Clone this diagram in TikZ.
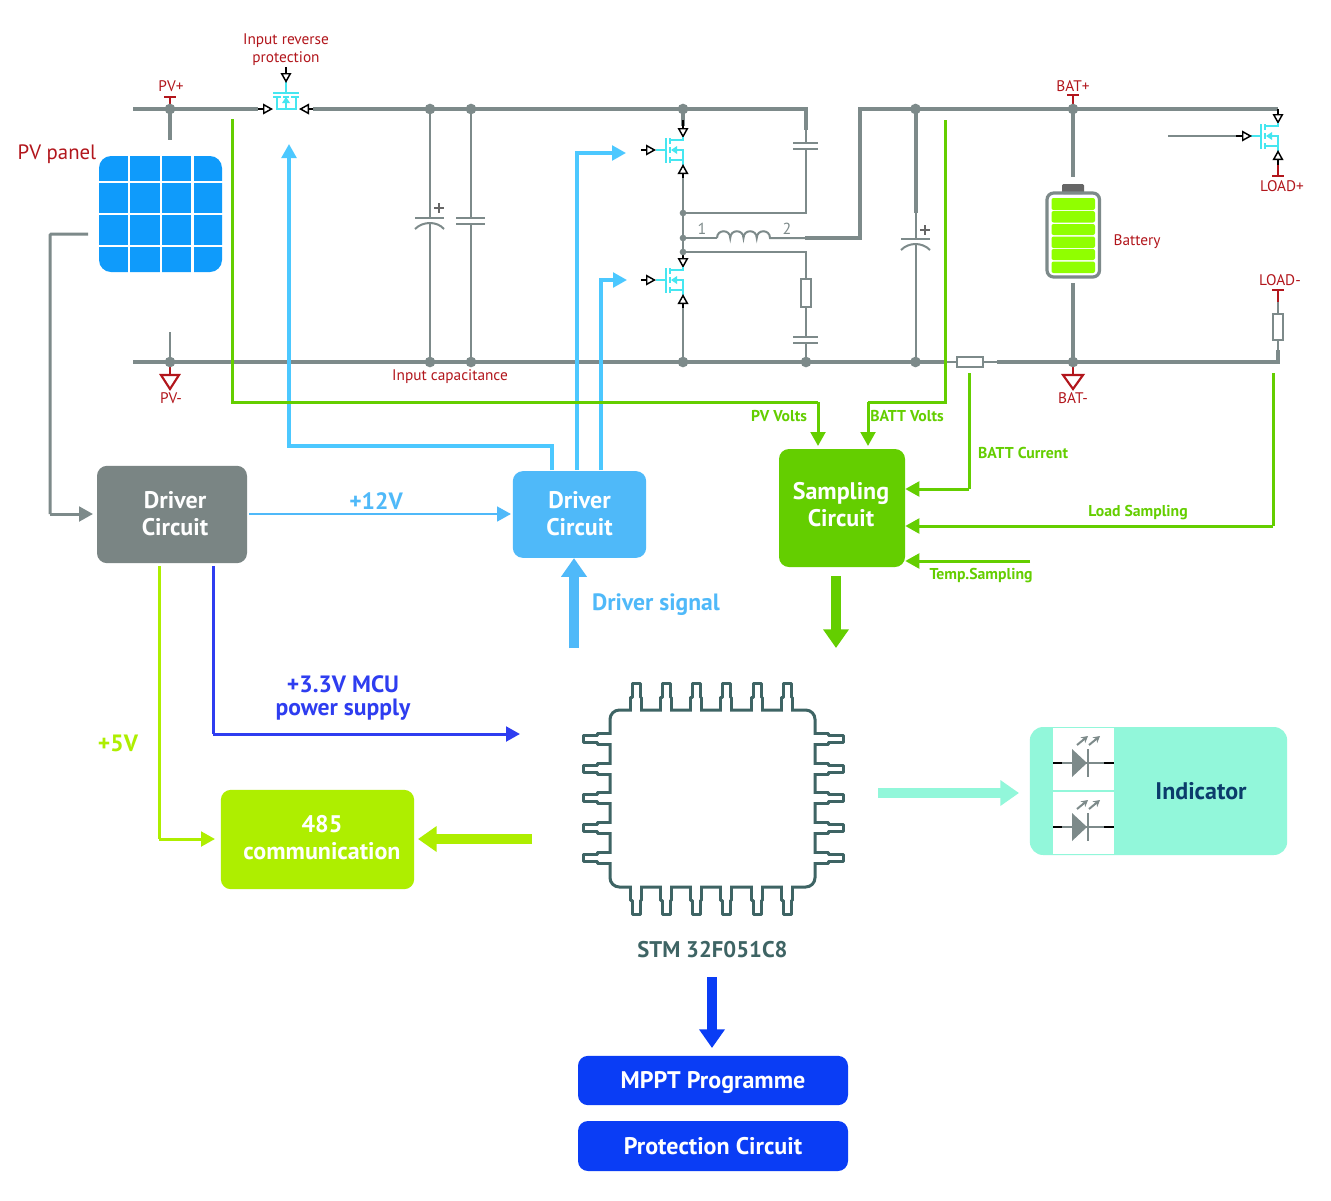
\documentclass[tikz,border=0pt]{standalone}
\usepackage{fontspec}
\setmainfont{PT Sans}
\usetikzlibrary{arrows.meta,calc}
\definecolor{rail}{HTML}{7D8A8A}
\definecolor{redtxt}{HTML}{B2161C}
\definecolor{fetc}{HTML}{45E6F0}
\definecolor{skyw}{HTML}{4CC8FF}
\definecolor{skyb}{HTML}{4FB9F9}
\definecolor{grnw}{HTML}{64CE00}
\definecolor{lime}{HTML}{AEEE00}
\definecolor{royal}{HTML}{2E3DF0}
\definecolor{deep}{HTML}{0A3DF5}
\definecolor{mint}{HTML}{92F7DA}
\definecolor{chipc}{HTML}{3E6464}
\definecolor{greybox}{HTML}{7A8584}
\definecolor{navyt}{HTML}{0B3C6B}
\definecolor{panelc}{HTML}{0F9BFB}
\definecolor{cellc}{HTML}{90FF00}
\definecolor{capc}{HTML}{666666}
\tikzset{
  thickrail/.style={draw=rail,line width=3pt},
  thinrail/.style={draw=rail,line width=1.5pt},
  plate/.style={draw=rail,line width=1.5pt},
  redline/.style={draw=redtxt,line width=1.6pt},
  opentip/.style={draw=black,line width=1.6pt,-{Triangle[length=7.5pt,width=8pt,line width=1.1pt,fill=white]}},
  fetline/.style={draw=fetc,line width=1.2pt},
  dotbig/.style={circle,fill=rail,inner sep=0pt,minimum size=8pt},
  dotsmall/.style={circle,fill=rail,inner sep=0pt,minimum size=5pt},
  wire/.style={line width=2.25pt,-{Triangle[length=10.5pt,width=11pt]}},
  plainwire/.style={line width=2.25pt},
  fat/.style={line width=7pt,-{Triangle[length=14pt,width=18.5pt]}},
  box/.style={rounded corners=7.5pt,inner sep=0pt},
  boxtext/.style={inner sep=0pt,align=center,text=white,font=\fontsize{18}{20.25}\selectfont\bfseries},
  rlab/.style={text=redtxt,inner sep=0pt,font=\fontsize{11.5}{13.5}\selectfont},
  glab/.style={text=grnw,inner sep=0pt,font=\fontsize{11.8}{14}\selectfont\bfseries},
  bigl/.style={inner sep=0pt,align=center,font=\fontsize{17.7}{17.25}\selectfont\bfseries},
  cell/.style={fill=cellc,rounded corners=1.5pt},
  pin/.style={draw=chipc,line width=2.25pt,line join=round},
}
\newcommand{\myfet}[2]{%
  \begin{scope}[shift={(#1,#2)}]
    \draw[fetline] (-27,0) -- (-17,0);
    \draw[fetline] (-17,-12) -- (-17,13);
    \draw[fetline] (-13,-12) -- (-13,-6) (-13,-3) -- (-13,3) (-13,7) -- (-13,13);
    \draw[fetline] (-13,-10) -- (0,-10) -- (0,-13);
    \draw[fetline] (-13,10) -- (0,10) -- (0,0) -- (-8,0);
    \draw[fetline] (0,10) -- (0,15);
    \fill[fetc] (-12,0) -- (-6,-4) -- (-6,4) -- cycle;
  \end{scope}}
\newcommand{\myled}[1]{%
  \begin{scope}[shift={(0,#1)}]
    \fill[white] (1053,-35) rectangle (1114,26.5);
    \draw[rail,line width=1.5pt] (1062,0) -- (1104,0);
    \draw[black,line width=1.6pt] (1053,0) -- (1062,0) (1104,0) -- (1114,0);
    \fill[rail] (1072,-14) -- (1087,0) -- (1072,14) -- cycle;
    \draw[rail,line width=2.2pt] (1088,-14) -- (1088,14);
    \draw[rail,line width=1.5pt,-{Stealth[length=5pt,width=5.5pt]}] (1077,-18) -- (1088,-27);
    \draw[rail,line width=1.5pt,-{Stealth[length=5pt,width=5.5pt]}] (1089,-18) -- (1100,-27);
  \end{scope}}
\begin{document}
\begin{tikzpicture}[x=0.75pt,y=-0.75pt]
\useasboundingbox[fill=white] (0,0) rectangle (1331,1200);

% ---- junctions
\foreach \n/\x/\y in {tA/170/109,tB/430/109,tC/471/109,tD/683/109,tE/915.5/109,tF/1073/109,
  bA/170/362,bB/430/362,bC/471/362,bD/683/362,bE/806/362,bF/915.5/362,bG/1073/362,
  mA/683/213,mB/683/238,mC/683/252,
  railL/133/109,railM/258/109,railN/313/109,railO/806/109,railP/860/109,railQ/1278/109,
  botL/133/362,botM/945/362,botN/997/362,botQ/1278/362}
  {\coordinate (\n) at (\x,\y);}

% ---- power rails
\draw[thickrail] (railL) -- (railM);
\draw[thickrail] (railN) -- (railO) -- (806,130);
\draw[thickrail] (805,238) -- (860,238) -- (railP) -- (railQ);
\draw[thickrail] (botL) -- (botM);
\draw[thickrail] (botN) -- (botQ) -- (1278,350);
\draw[thinrail] (botM) -- (957,362);
\draw[thinrail] (983,362) -- (botN);
\node[draw=rail,line width=1.5pt,fill=white,minimum width=19.5pt,minimum height=7.5pt,inner sep=0pt] (shunt) at (970,362) {};

% PV side
\draw[thickrail] (tA) -- (170,140);
\draw[thinrail] (170,332) -- (bA);
\draw[redline] (170,97) -- (tA);
\draw[redline] (164,97) -- (176,97);
\draw[redline] (bA) -- (170,375);
\draw[redline,line join=miter] (161,375) -- (179,375) -- (170,389) -- cycle;
\node[rlab] (pvp) at (171,86) {PV+};
\node[rlab] (pvm) at (171,398) {PV-};
\node[text=redtxt,inner sep=0pt,font=\fontsize{15.6}{17}\selectfont] (pvpanel) at (57,154) {PV panel};

% panel
\fill[panelc,rounded corners=9pt] (99,156) rectangle (222,272);
\draw[white,line width=2pt] (129,155) -- (129,273) (161,155) -- (161,273) (192.5,155) -- (192.5,273)
  (98,182) -- (223,182) (98,214) -- (223,214) (98,246) -- (223,246);

% input FET
\draw[fetline] (286,82) -- (286,93);
\draw[fetline] (273,93) -- (299,93);
\draw[fetline] (273,97) -- (281,97) (283,97) -- (289,97) (291,97) -- (299,97);
\draw[fetline] (277,97) -- (277,109) -- (296,109) -- (296,97);
\draw[fetline] (286,109) -- (286,102);
\fill[fetc] (286,97) -- (282,103) -- (290,103) -- cycle;
\draw[opentip] (286,67) -- (286,83);
\draw[opentip] (railM) -- (273,109);
\draw[opentip] (railN) -- (299,109);
\node[rlab,align=center] (irp) at (286,50) {Input reverse\\protection};

% capacitors
\draw[thinrail] (tB) -- (430,218) (430,224) -- (bB);
\draw[plate] (415,218) -- (444,218);
\draw[plate] (415,229) .. controls (423,221) and (437,221) .. (444,229);
\draw[capc,line width=1pt] (439,203) -- (439,213) (434,208) -- (444,208);
\draw[thinrail] (tC) -- (471,218) (471,224) -- (bC);
\draw[plate] (456,218) -- (485,218) (456,224) -- (485,224);
\node[rlab] (incap) at (450,377) {Input capacitance};

% half bridge
\draw[thickrail] (tD) -- (683,126);
\draw[opentip] (683,120) -- (683,138);
\myfet{683}{150}
\draw[opentip] (683,180) -- (683,164);
\draw[thinrail] (683,178) -- (mC);
\draw[thinrail] (mA) -- (806,213) -- (806,149);
\draw[plate] (793,143) -- (818,143) (793,149) -- (818,149);
\draw[thinrail] (806,130) -- (806,143);
\draw[thinrail] (mB) -- (717,238);
\draw[thinrail] (717,238) .. controls (717,229) and (730.25,229) .. (730.25,238)
   .. controls (730.25,229) and (743.5,229) .. (743.5,238)
   .. controls (743.5,229) and (756.75,229) .. (756.75,238)
   .. controls (756.75,229) and (770,229) .. (770,238) -- (805,238);
\node[text=rail,inner sep=0pt,font=\fontsize{12}{13}\selectfont] (l1) at (702,229) {1};
\node[text=rail,inner sep=0pt,font=\fontsize{12}{13}\selectfont] (l2) at (787,229) {2};
\draw[thinrail] (mC) -- (806,252) -- (806,337) (806,343) -- (bE);
\node[draw=rail,line width=1.5pt,fill=white,minimum width=7.5pt,minimum height=21pt,inner sep=0pt] (rsn) at (806,293) {};
\draw[plate] (793,337) -- (818,337) (793,343) -- (818,343);
\draw[opentip] (mC) -- (683,268);
\myfet{683}{280}
\draw[opentip] (683,310) -- (683,294);
\draw[thinrail] (683,308) -- (bD);
\foreach \yy in {150,280}{\draw[opentip] (641,\yy) -- (656,\yy);}

% output cap
\draw[thinrail] (tE) -- (bF |- 0,239) (bF |- 0,245) -- (bF);
\draw[thickrail] (tE) -- (bF |- 0,213);
\draw[plate] (901,239) -- (930,239);
\draw[plate] (901,250) .. controls (909,242) and (922,242) .. (930,250);
\draw[capc,line width=1pt] (925,225) -- (925,235) (920,230) -- (930,230);

% battery
\draw[thickrail] (tF) -- (1073,177);
\draw[thickrail] (1073,283) -- (bG);
\fill[capc,rounded corners=1pt] (1062,184) rectangle (1084,194);
\draw[rail,line width=2.4pt,rounded corners=5pt] (1047,193) rectangle (1099.5,277);
\foreach \a/\b in {198/210,211/222.5,224/235,236.5/248,249/260,261.5/273}
  {\fill[cell] (1051.5,\a) rectangle (1095,\b);}
\node[rlab] (batt) at (1137,242) {Battery};
\draw[redline] (1073,95) -- (tF);
\draw[redline] (1067,95) -- (1079,95);
\node[rlab] (batp) at (1073,86) {BAT+};
\draw[redline] (bG) -- (1073,375);
\draw[redline,line join=miter] (1063,375) -- (1083,375) -- (1073,389) -- cycle;
\node[rlab] (batm) at (1073,398) {BAT-};

% load FET
\draw[opentip] (railQ) -- (1278,124);
\myfet{1278}{136}
\draw[thinrail] (1168,136) -- (1236,136);
\draw[opentip] (1236,136) -- (1252,136);
\draw[opentip] (1278,167) -- (1278,150);
\draw[redline] (1278,165) -- (1278,176);
\draw[redline] (1272,176) -- (1284,176);
\node[rlab] (loadp) at (1282,186) {LOAD+};
\node[rlab] (loadm) at (1280,280) {LOAD-};
\draw[redline] (1272,290) -- (1284,290) (1278,290) -- (1278,302);
\draw[thinrail] (1278,302) -- (1278,350);
\node[draw=rail,line width=1.5pt,fill=white,minimum width=7.5pt,minimum height=19.5pt,inner sep=0pt] (rload) at (1278,327) {};

% dots
\foreach \n in {tA,tB,tC,tD,tE,tF,bA,bB,bC,bD,bE,bF,bG}
  {\node[dotbig] (d\n) at (\n) {};}
\foreach \n in {mA,mB,mC}
  {\node[dotsmall] (d\n) at (\n) {};}

% ---- boxes
\node[box,fill=greybox,minimum width=112.5pt,minimum height=73pt] (drv1) at (172,514.5) {};
\node[boxtext] (drv1t) at (175,513.5) {Driver\\Circuit};
\node[box,fill=skyb,minimum width=100pt,minimum height=65pt] (drv2) at (579.5,514.5) {};
\node[boxtext] (drv2t) at (579.5,513.5) {Driver\\Circuit};
\node[box,fill=grnw,minimum width=94.5pt,minimum height=88.5pt] (samp) at (842,508) {};
\node[boxtext] (sampt) at (841,504.5) {Sampling\\Circuit};
\node[box,fill=lime,minimum width=145pt,minimum height=74.5pt] (rs485) at (317.5,839.5) {};
\node[boxtext] (rs485t) at (322,837.5) {485\\communication};
\node[box,fill=deep,minimum width=202.5pt,minimum height=37pt] (mppt) at (713,1080.5) {};
\node[boxtext] (mpptt) at (713,1083) {MPPT Programme};
\node[box,fill=deep,minimum width=202.5pt,minimum height=37.5pt] (prot) at (713,1146) {};
\node[boxtext] (prott) at (713,1146) {Protection Circuit};

% indicator
\node[box,fill=mint,minimum width=193pt,minimum height=96pt,rounded corners=10pt] (ind) at (1158.5,791) {};
\node[boxtext,text=navyt] (indt) at (1201,791) {Indicator};
\myled{763}
\myled{827}

% ---- chip
\draw[chipc,line width=2.25pt,rounded corners=7pt] (610,710) rectangle (815,887);
\foreach \x in {636,666,696,726,757,787}{
  \fill[white] (\x-4.4,708) rectangle (\x+4.4,712);
  \fill[white] (\x-4.4,885) rectangle (\x+4.4,889);
  \draw[pin] (\x-5.5,710) -- (\x-5.5,697) -- (\x-4,697) -- (\x-4,683) -- (\x+4,683) -- (\x+4,697) -- (\x+5.5,697) -- (\x+5.5,710);
  \draw[pin] (\x-5.5,887) -- (\x-5.5,900) -- (\x-4,900) -- (\x-4,914) -- (\x+4,914) -- (\x+4,900) -- (\x+5.5,900) -- (\x+5.5,887);
}
\foreach \y in {739,769,798,828,858}{
  \fill[white] (608,\y-4.4) rectangle (612,\y+4.4);
  \fill[white] (813,\y-4.4) rectangle (817,\y+4.4);
  \draw[pin] (610,\y-5.5) -- (597,\y-5.5) -- (597,\y-3.5) -- (583,\y-3.5) -- (583,\y+3.5) -- (597,\y+3.5) -- (597,\y+5.5) -- (610,\y+5.5);
  \draw[pin] (815,\y-5.5) -- (828,\y-5.5) -- (828,\y-3.5) -- (843,\y-3.5) -- (843,\y+3.5) -- (828,\y+3.5) -- (828,\y+5.5) -- (815,\y+5.5);
}
\node[text=chipc,inner sep=0pt,font=\fontsize{17}{18}\selectfont\bfseries] (stm) at (712.5,950) {STM 32F051C8};

% ---- wires
\coordinate (tipA) at (93,514);
\draw[rail,plainwire,rounded corners=1pt] (88,234) -- (50,234) -- (50,514);
\draw[rail,wire] (50,514) -- (tipA);
\draw[skyb,wire,line width=2pt] (249,514) -- (511,514);
\node[bigl,text=skyb] (v12) at (376,501) {+12V};

\draw[skyw,wire,line width=2.5pt] (552,470) -- (552,446) -- (289,446) -- (289,144);
\draw[skyw,wire,line width=2.5pt] (577,470) -- (577,153) -- (626,153);
\draw[skyw,wire,line width=2.5pt] (601,470) -- (601,280) -- (627,280);

\draw[grnw,plainwire] (232,119) -- (232,402) -- (818,402);
\draw[grnw,wire] (818,402) -- (818,446);
\draw[grnw,plainwire] (945,120) -- (945,402) -- (868,402);
\draw[grnw,wire] (868,402) -- (868,446);
\draw[grnw,plainwire] (969,373) -- (969,489);
\draw[grnw,wire] (969,489) -- (samp.east|-969,489);
\draw[grnw,plainwire] (1273,373) -- (1273,526);
\draw[grnw,wire] (1273,526) -- (samp.east|-1273,526);
\draw[grnw,wire] (1030,561) -- (samp.east|-1030,561);
\node[glab] (pvv) at (779,416) {PV Volts};
\node[glab] (bvv) at (907,416) {BATT Volts};
\node[glab] (bci) at (1023,453) {BATT Current};
\node[glab] (lsa) at (1138,513) {Load Sampling};
\node[glab] (tsa) at (981,576) {Temp.Sampling};

\draw[grnw,fat] (836,576) -- (836,648);
\draw[skyb,fat] (574,648) -- (drv2.south-|574,560);
\node[bigl,text=skyb] (dsig) at (656,604.5) {Driver signal};

\draw[lime,plainwire] (159,566) -- (159,839);
\draw[lime,wire] (159,839) -- (215,839);
\node[bigl,text=lime] (v5) at (118,743.5) {+5V};
\draw[royal,plainwire] (213,566) -- (213,734);
\draw[royal,wire] (213,734) -- (520,734);
\node[bigl,text=royal] (v33) at (343,698) {+3.3V MCU\\power supply};

\draw[lime,fat] (532,839) -- (418,839);
\draw[mint,fat] (878,793) -- (1019,793);
\draw[deep,fat] (712,977) -- (712,1048);
\end{tikzpicture}
\end{document}
